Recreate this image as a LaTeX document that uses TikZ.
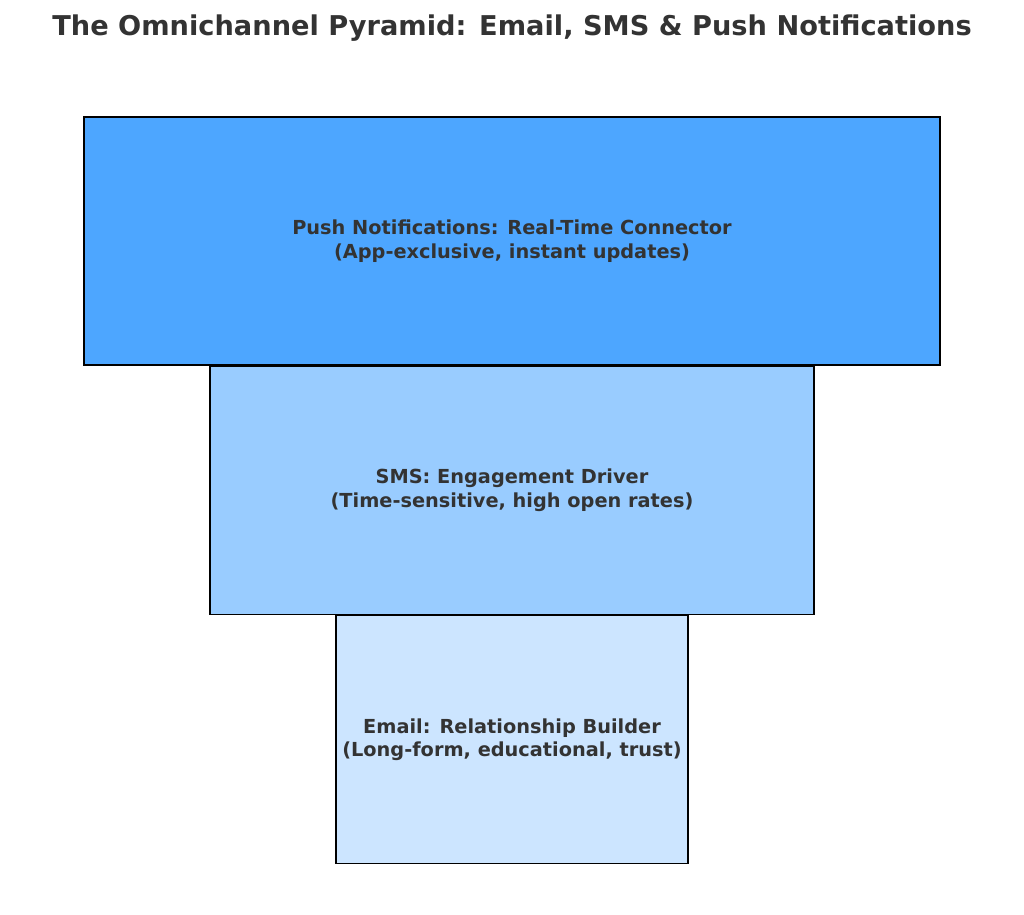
\documentclass[tikz,border=0pt]{standalone}
\usepackage{fontspec}
\setmainfont{DejaVu Sans}
\usetikzlibrary{positioning}
\definecolor{tier1}{HTML}{4DA6FF}
\definecolor{tier2}{HTML}{99CCFF}
\definecolor{tier3}{HTML}{CCE5FF}
\definecolor{ink}{HTML}{333333}
\begin{document}
\begin{tikzpicture}[x=0.02cm,y=-0.02cm]
  \tikzset{ tier/.style={draw=black,line width=0.8pt,minimum height=4.96cm,inner sep=0pt,
      align=center,text=ink,font=\fontsize{11}{13.6}\selectfont\bfseries},
  }
  \useasboundingbox (0,0) rectangle (1024,914);
  % the title
  \node[text=ink,font=\fontsize{15.5}{18}\selectfont\bfseries] (title) at (512,28)
    {The Omnichannel Pyramid: Email, SMS \& Push Notifications};
  % the three tiers
  \node[tier,fill=tier1,minimum width=17.12cm] (push) at (512,241)
    {Push Notifications: Real-Time Connector\\(App-exclusive, instant updates)};
  \node[tier,fill=tier2,minimum width=12.08cm,below=0pt of push] (sms)
    {SMS: Engagement Driver\\(Time-sensitive, high open rates)};
  \node[tier,fill=tier3,minimum width=7.04cm,below=0pt of sms] (email)
    {Email: Relationship Builder\\(Long-form, educational, trust)};
\end{tikzpicture}
\end{document}
